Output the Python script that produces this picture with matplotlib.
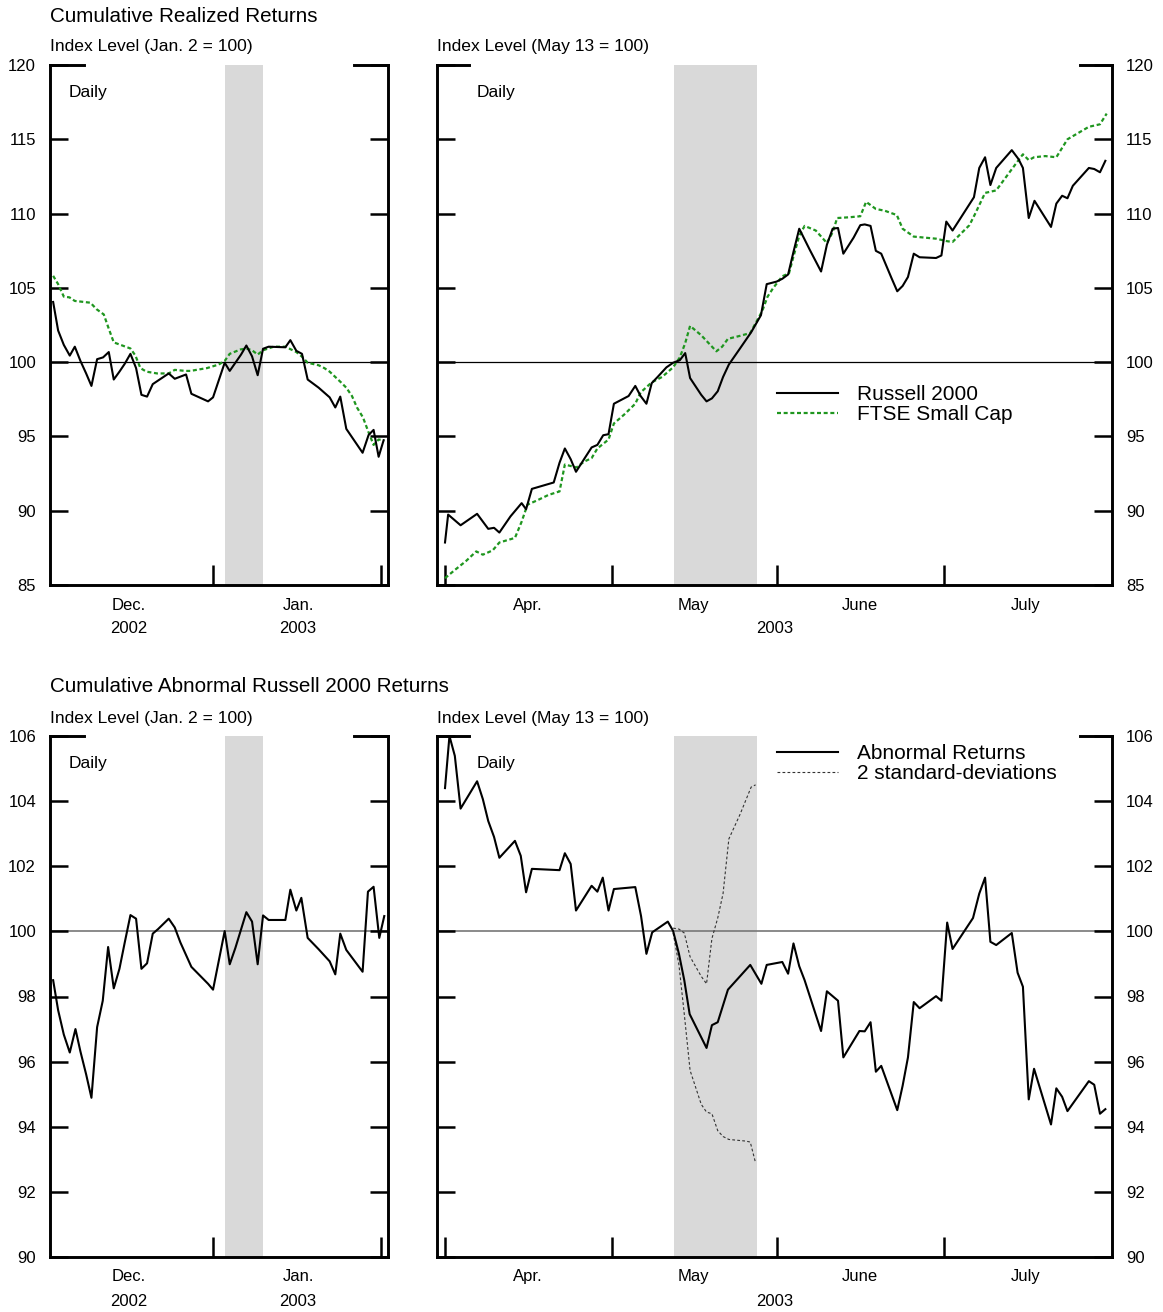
import matplotlib
matplotlib.use("Agg")
import matplotlib.pyplot as plt
from matplotlib.lines import Line2D

plt.rcParams['font.family'] = ['Liberation Sans', 'DejaVu Sans']

# ---------------- data ----------------
# Left panels: x = days after Dec. 1, 2002 (Jan. 1 = 31, Feb. 1 = 62)
tl_russell_x = [1.48, 2.40, 3.45, 4.55, 5.48, 6.52, 7.57, 8.55, 9.60, 10.70, 11.75, 12.67, 13.72,
                14.70, 15.75, 16.79, 17.78, 18.82, 19.87, 20.85, 22.82, 23.93, 26.02, 27.00, 30.08,
                31.00, 33.15, 34.08, 36.17, 37.15, 38.20, 39.24, 40.23, 41.27, 44.35, 45.27, 46.38,
                47.42, 48.47, 50.50, 52.53, 53.57, 54.49, 55.60, 58.61, 59.72, 60.64, 61.57, 62.49]
tl_russell_y = [104.05, 102.13, 101.16, 100.44, 101.04, 100.08, 99.24, 98.40, 100.20, 100.32, 100.68,
                98.83, 99.36, 99.89, 100.56, 99.60, 97.80, 97.68, 98.52, 98.76, 99.24, 98.88, 99.17,
                97.87, 97.36, 97.63, 99.96, 99.41, 100.51, 101.12, 100.39, 99.12, 100.90, 101.04,
                101.00, 101.48, 100.76, 100.56, 98.83, 98.28, 97.63, 96.95, 97.68, 95.51, 93.90,
                95.10, 95.44, 93.63, 94.74]
tl_ftse_x = [1.48, 2.40, 3.45, 4.49, 5.48, 8.37, 9.47, 10.83, 11.75, 12.67, 15.75, 16.67, 17.59,
             18.70, 20.67, 22.82, 23.93, 25.90, 26.82, 29.89, 32.05, 33.15, 34.08, 36.04, 37.15,
             38.20, 39.24, 40.23, 42.19, 44.35, 46.38, 47.42, 48.47, 50.50, 51.54, 52.53, 54.62,
             55.60, 56.65, 57.57, 58.68, 59.72, 60.64, 61.57, 62.61]
tl_ftse_y = [105.81, 105.25, 104.41, 104.36, 104.12, 104.00, 103.57, 103.21, 102.25, 101.33, 100.92,
             100.44, 99.60, 99.36, 99.24, 99.24, 99.48, 99.41, 99.41, 99.60, 99.84, 100.08, 100.56,
             100.85, 100.92, 100.80, 100.51, 100.80, 101.04, 101.04, 100.68, 100.37, 99.96, 99.79,
             99.60, 99.36, 98.64, 98.28, 97.72, 96.95, 96.28, 95.27, 94.43, 94.79, 94.74]
bl_abn_x = [1.48, 2.40, 3.45, 4.55, 5.60, 6.52, 7.57, 8.55, 9.60, 10.64, 11.63, 12.67, 13.72, 14.70,
            15.75, 16.79, 17.78, 18.82, 19.87, 20.85, 22.82, 23.93, 24.97, 27.00, 30.08, 31.00,
            33.15, 34.08, 35.12, 37.15, 38.20, 39.24, 40.23, 41.27, 44.35, 45.27, 46.38, 47.30,
            48.47, 50.50, 52.53, 53.57, 54.49, 55.60, 58.61, 59.60, 60.64, 61.69, 62.61]
bl_abn_y = [98.50, 97.58, 96.83, 96.28, 97.00, 96.31, 95.61, 94.89, 97.06, 97.87, 99.52, 98.25,
            98.85, 99.66, 100.50, 100.39, 98.85, 99.02, 99.93, 100.07, 100.39, 100.12, 99.66, 98.91,
            98.39, 98.21, 100.01, 98.99, 99.49, 100.59, 100.30, 98.99, 100.49, 100.35, 100.35,
            101.28, 100.64, 101.03, 99.80, 99.45, 99.08, 98.68, 99.93, 99.43, 98.76, 101.22,
            101.37, 99.80, 100.47]

# Right panels: x = days after Apr. 1, 2003
tr_russell_x = [0.00, 0.57, 2.84, 5.85, 7.88, 8.94, 9.91, 11.94, 13.97, 14.78, 15.84, 19.82, 20.88,
                21.85, 22.91, 23.88, 25.35, 26.73, 27.78, 28.84, 29.81, 30.79, 33.47, 34.69, 35.66,
                36.72, 37.69, 38.75, 40.37, 41.59, 42.81, 43.79, 44.68, 46.71, 47.68, 48.66, 49.72,
                50.69, 51.75, 53.78, 55.81, 57.60, 58.65, 60.44, 61.49, 62.55, 63.53, 64.58, 66.53,
                68.56, 69.62, 70.67, 71.65, 72.62, 74.49, 75.71, 76.52, 77.58, 78.55, 79.53, 81.40,
                82.45, 83.43, 84.40, 85.46, 86.52, 89.52, 90.50, 91.39, 92.53, 93.58, 96.43, 97.40,
                98.46, 99.43, 100.49, 103.33, 104.55, 105.36, 106.42, 107.47, 110.48, 111.45,
                112.51, 113.48, 114.46, 117.38, 118.36, 119.41, 120.39]
tr_russell_y = [87.86, 89.74, 89.02, 89.79, 88.78, 88.85, 88.53, 89.62, 90.51, 90.10, 91.47, 91.90,
                93.23, 94.19, 93.47, 92.62, 93.47, 94.26, 94.43, 95.08, 95.15, 97.20, 97.72, 98.40,
                97.72, 97.20, 98.59, 99.00, 99.65, 99.96, 100.13, 100.61, 98.93, 97.80, 97.36, 97.56,
                98.04, 99.00, 99.84, 100.92, 102.01, 103.16, 105.25, 105.42, 105.61, 105.90, 107.42,
                108.98, 107.54, 106.10, 107.90, 108.98, 109.03, 107.30, 108.38, 109.22, 109.27,
                109.17, 107.49, 107.30, 105.66, 104.77, 105.13, 105.73, 107.30, 107.06, 107.01,
                107.18, 109.46, 108.86, 109.46, 111.10, 113.07, 113.79, 111.92, 113.07, 114.27,
                113.67, 113.07, 109.70, 110.86, 109.10, 110.67, 111.20, 111.03, 111.87, 113.07,
                113.00, 112.78, 113.55]
tr_ftse_x = [0.00, 1.79, 3.82, 5.69, 6.90, 8.69, 9.91, 12.75, 13.97, 15.03, 16.82, 18.85, 20.88,
             21.85, 23.96, 25.35, 26.73, 27.78, 29.81, 30.79, 32.66, 34.69, 35.66, 37.69, 39.56,
             41.59, 42.81, 43.79, 44.68, 46.71, 49.47, 50.53, 51.58, 53.78, 55.65, 57.84, 58.81,
             59.87, 61.49, 62.71, 63.53, 64.58, 65.56, 67.59, 69.62, 70.67, 71.49, 73.68, 75.71,
             76.77, 78.55, 80.18, 82.37, 83.43, 85.46, 87.49, 89.52, 91.55, 92.53, 95.61, 96.59,
             98.46, 100.49, 103.74, 105.36, 106.42, 107.39, 109.42, 111.45, 113.48, 117.38,
             119.41, 120.63]
tr_ftse_y = [85.46, 86.01, 86.61, 87.26, 87.04, 87.33, 87.86, 88.17, 89.26, 90.41, 90.70, 91.06,
             91.30, 93.11, 92.91, 93.30, 93.54, 94.19, 94.79, 95.87, 96.47, 97.20, 97.96, 98.64,
             99.00, 99.65, 100.32, 101.28, 102.44, 101.81, 100.73, 101.04, 101.57, 101.77, 101.96,
             103.45, 104.41, 105.01, 105.78, 105.98, 107.11, 108.50, 109.17, 108.86, 108.02,
             108.74, 109.70, 109.75, 109.82, 110.79, 110.31, 110.19, 109.90, 108.98, 108.45,
             108.38, 108.31, 108.14, 108.09, 109.22, 109.94, 111.39, 111.56, 113.19, 113.99,
             113.60, 113.79, 113.87, 113.79, 115.00, 115.84, 116.01, 116.73]
br_abn_x = [0.00, 0.81, 1.79, 2.84, 5.85, 6.90, 7.88, 8.94, 9.91, 12.75, 13.81, 14.78, 15.84, 20.88,
            21.85, 22.91, 23.88, 26.73, 27.78, 28.76, 29.81, 30.79, 34.69, 35.74, 36.72, 37.77,
            40.62, 41.59, 42.65, 43.62, 44.60, 47.68, 48.66, 49.72, 51.58, 55.65, 57.68, 58.65,
            61.49, 62.55, 63.53, 64.58, 65.56, 68.56, 69.62, 71.65, 72.62, 75.55, 76.52, 77.58,
            78.55, 79.53, 82.45, 83.43, 84.40, 85.46, 86.52, 89.52, 90.50, 91.55, 92.53, 96.26,
            97.40, 98.46, 99.43, 100.49, 103.33, 104.39, 105.36, 106.42, 107.39, 110.48, 111.45,
            112.51, 113.48, 117.38, 118.36, 119.41, 120.39]
br_abn_y = [104.40, 106.00, 105.39, 103.77, 104.61, 104.06, 103.39, 102.90, 102.26, 102.78, 102.32,
            101.20, 101.92, 101.88, 102.40, 102.07, 100.64, 101.40, 101.22, 101.65, 100.64, 101.30,
            101.36, 100.47, 99.31, 99.97, 100.30, 100.01, 99.31, 98.50, 97.46, 96.42, 97.12, 97.21,
            98.21, 98.97, 98.39, 98.97, 99.06, 98.70, 99.63, 98.93, 98.50, 96.94, 98.16, 97.87,
            96.13, 96.94, 96.93, 97.21, 95.69, 95.87, 94.51, 95.26, 96.13, 97.83, 97.64, 98.01,
            97.87, 100.27, 99.46, 100.41, 101.16, 101.65, 99.68, 99.58, 99.95, 98.73, 98.30, 94.84,
            95.78, 94.07, 95.18, 94.92, 94.48, 95.40, 95.29, 94.40, 94.54]
br_upper_x = [41.59, 42.65, 43.62, 44.68, 46.71, 47.68, 48.66, 49.72, 50.69, 51.75, 53.78, 55.81, 56.62]
br_upper_y = [100.10, 100.07, 99.95, 99.22, 98.62, 98.39, 99.78, 100.41, 101.16, 102.84, 103.59,
              104.43, 104.50]
br_lower_x = [41.59, 42.65, 43.62, 44.68, 46.71, 47.68, 48.66, 49.72, 50.69, 51.75, 54.83, 55.65, 56.62]
br_lower_y = [99.95, 98.97, 97.46, 95.73, 94.69, 94.45, 94.40, 93.88, 93.70, 93.61, 93.56, 93.53, 92.89]

# axis / label info
left_xlim = (0.9, 63.3)
left_month_ticks = [31, 62]
left_month_labels = ["Dec.", "Jan."]
left_month_label_x = [15.5, 46.7]
left_year_labels = ["2002", "2003"]
left_event = (33.15, 40.23)

right_xlim = (-1.46, 121.6)
right_month_ticks = [0, 30.46, 60.52, 91.0]
right_month_labels = ["Apr.", "May", "June", "July"]
right_month_label_x = [15.15, 45.3, 75.7, 105.9]
right_year_label = "2003"
right_year_x = 60.1
right_event = (41.75, 56.8)

top_yticks = [85, 90, 95, 100, 105, 110, 115, 120]
bot_yticks = [90, 92, 94, 96, 98, 100, 102, 104, 106]

BLACK = 'black'
GREEN = '#1f961f'
SHADE = '#d9d9d9'

fig = plt.figure(figsize=(11.63, 13.12), dpi=100)

W, H = 1163.0, 1312.0
def rect(x0, x1, y0, y1):
    return [x0 / W, 1 - y1 / H, (x1 - x0) / W, (y1 - y0) / H]

ax_tl = fig.add_axes(rect(50, 388, 65, 585))
ax_tr = fig.add_axes(rect(437, 1112, 65, 585))
ax_bl = fig.add_axes(rect(50, 388, 736, 1257))
ax_br = fig.add_axes(rect(437, 1112, 736, 1257))


def style(ax, xlim, ylim, yticks, xticks, side, top_frac, mlabels, mlx, ylab_list, ylab_x,
          month_y, year_y, event, hline_color, hline_lw):
    ax.set_xlim(*xlim)
    ax.set_ylim(*ylim)
    ax.axvspan(event[0], event[1], color=SHADE, lw=0, zorder=0)
    ax.axhline(100, color=hline_color, lw=hline_lw, zorder=1)
    ax.spines['top'].set_visible(False)
    for s in ['left', 'right', 'bottom']:
        ax.spines[s].set_linewidth(2.1)
    ax.set_yticks(yticks)
    ax.set_yticklabels([str(v) for v in yticks])
    ax.tick_params(axis='y', which='major', direction='in', length=13, width=1.8,
                   left=True, right=True, labelleft=(side == 'left'),
                   labelright=(side == 'right'), labelsize=12, pad=10)
    ax.set_xticks(xticks)
    ax.set_xticklabels([])
    ax.tick_params(axis='x', which='major', direction='in', length=14.5, width=1.8,
                   bottom=True, top=False)
    for x0, x1 in [(0, top_frac), (1 - top_frac, 1)]:
        ax.add_line(Line2D([x0, x1], [1, 1], transform=ax.transAxes, color='k', lw=2.1,
                           clip_on=False, solid_capstyle='projecting'))
    tr = ax.get_xaxis_transform()
    for lab, x in zip(mlabels, mlx):
        ax.text(x, month_y, lab, transform=tr, ha='center', va='center', fontsize=12)
    for lab, x in zip(ylab_list, ylab_x):
        ax.text(x, year_y, lab, transform=tr, ha='center', va='center', fontsize=12)
    ax.text(0.055 if side == 'left' else 0.058, 0.948, "Daily", transform=ax.transAxes,
            ha='left', va='center', fontsize=12.5)


# top-left
style(ax_tl, left_xlim, (85, 120), top_yticks, left_month_ticks, 'left', 0.10,
      left_month_labels, left_month_label_x, left_year_labels, left_month_label_x,
      -0.040, -0.0845, left_event, 'black', 0.9)
ax_tl.plot(tl_russell_x, tl_russell_y, color=BLACK, lw=1.5, zorder=3)
ax_tl.plot(tl_ftse_x, tl_ftse_y, color=GREEN, lw=1.6, linestyle=(0, (1.8, 1.2)), zorder=2)

# top-right
style(ax_tr, right_xlim, (85, 120), top_yticks, right_month_ticks, 'right', 0.047,
      right_month_labels, right_month_label_x, [right_year_label], [right_year_x],
      -0.040, -0.0845, right_event, 'black', 0.9)
h1, = ax_tr.plot(tr_russell_x, tr_russell_y, color=BLACK, lw=1.5, zorder=3, label='Russell 2000')
h2, = ax_tr.plot(tr_ftse_x, tr_ftse_y, color=GREEN, lw=1.6, linestyle=(0, (1.8, 1.2)), zorder=2,
                 label='FTSE Small Cap')
ax_tr.legend(handles=[h1, h2], loc='upper left', bbox_to_anchor=(0.504, 0.385), fontsize=15,
             frameon=False, handlelength=2.9, handletextpad=0.95, labelspacing=0.05,
             borderpad=0, borderaxespad=0)

# bottom-left
style(ax_bl, left_xlim, (90, 106), bot_yticks, left_month_ticks, 'left', 0.10,
      left_month_labels, left_month_label_x, left_year_labels, left_month_label_x,
      -0.038, -0.0845, left_event, '#777777', 1.2)
ax_bl.plot(bl_abn_x, bl_abn_y, color=BLACK, lw=1.5, zorder=3)

# bottom-right
style(ax_br, right_xlim, (90, 106), bot_yticks, right_month_ticks, 'right', 0.047,
      right_month_labels, right_month_label_x, [right_year_label], [right_year_x],
      -0.038, -0.0845, right_event, '#777777', 1.2)
g1, = ax_br.plot(br_abn_x, br_abn_y, color=BLACK, lw=1.5, zorder=3, label='Abnormal Returns')
g2, = ax_br.plot(br_upper_x, br_upper_y, color='#333333', lw=0.8, linestyle=(0, (2.5, 2.0)),
                 zorder=2, label='2 standard-deviations')
ax_br.plot(br_lower_x, br_lower_y, color='#333333', lw=0.8, linestyle=(0, (2.5, 2.0)), zorder=2)
ax_br.legend(handles=[g1, g2], loc='upper left', bbox_to_anchor=(0.504, 0.985), fontsize=15,
             frameon=False, handlelength=2.9, handletextpad=0.95, labelspacing=0.05,
             borderpad=0, borderaxespad=0)

# titles
fig.text(50 / W, 1 - 16 / H, "Cumulative Realized Returns", ha='left', va='center', fontsize=14.9)
fig.text(50 / W, 1 - 46 / H, "Index Level (Jan. 2 = 100)", ha='left', va='center', fontsize=12.6)
fig.text(437 / W, 1 - 46 / H, "Index Level (May 13 = 100)", ha='left', va='center', fontsize=12.6)
fig.text(50 / W, 1 - 686 / H, "Cumulative Abnormal Russell 2000 Returns", ha='left', va='center',
         fontsize=14.9)
fig.text(50 / W, 1 - 718 / H, "Index Level (Jan. 2 = 100)", ha='left', va='center', fontsize=12.6)
fig.text(437 / W, 1 - 718 / H, "Index Level (May 13 = 100)", ha='left', va='center', fontsize=12.6)

fig.savefig("out.png", dpi=100)
